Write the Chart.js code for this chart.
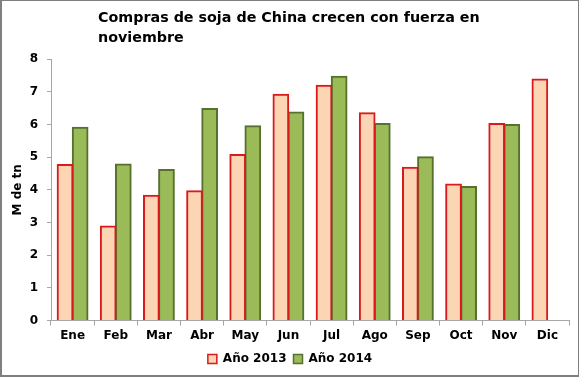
<!DOCTYPE html>
<html><head><meta charset="utf-8">
<script src="https://cdn.jsdelivr.net/npm/chart.js@4"></script>
<style>
html,body{margin:0;padding:0;background:#fff;}
#wrap{position:relative;border:1px solid #7f7f7f;border-left:2px solid #7f7f7f;border-bottom:2px solid #7f7f7f;box-sizing:border-box;width:579px;height:377px;}
#title{position:absolute;left:96px;top:6px;font-family:"DejaVu Sans",sans-serif;font-weight:bold;font-size:14.3px;line-height:20px;color:#000;}
canvas{position:absolute;left:0;top:0;}
</style></head><body>
<div id="wrap">
<canvas id="c" width="576" height="374"></canvas>
<div id="title">Compras de soja de China crecen con fuerza en<br>noviembre</div>
</div>
<script>
const categories = ["Ene","Feb","Mar","Abr","May","Jun","Jul","Ago","Sep","Oct","Nov","Dic"];
const values2013 = [4.77,2.89,3.83,3.97,5.08,6.92,7.20,6.36,4.69,4.18,6.03,7.39];
const values2014 = [5.91,4.79,4.62,6.49,5.96,6.38,7.47,6.03,5.01,4.10,6.00,null];
const yTicks = [0,1,2,3,4,5,6,7,8];
const seriesNames = ["Año 2013","Año 2014"];

const font = {family:"'DejaVu Sans', sans-serif", weight:"bold", size:12};
new Chart(document.getElementById('c'), {
  type:'bar',
  data:{
    labels:categories,
    datasets:[
      {label:seriesNames[0],data:values2013,backgroundColor:'#fcd5b5',borderColor:'#d9191c',borderWidth:{top:2,left:2,right:2,bottom:0},borderSkipped:false,inflateAmount:0.5,categoryPercentage:0.7,barPercentage:1.04},
      {label:seriesNames[1],data:values2014,backgroundColor:'#9bbb59',borderColor:'#56702e',borderWidth:{top:2,left:2,right:2,bottom:0},borderSkipped:false,inflateAmount:0.5,categoryPercentage:0.7,barPercentage:1.04}
    ]
  },
  options:{
    responsive:false,animation:false,
    layout:{padding:{top:58,right:9,left:9,bottom:0}},
    plugins:{
      legend:{position:'bottom',labels:{font:font,color:'#000',boxWidth:9,boxHeight:9,padding:7}},
      tooltip:{enabled:false},title:{display:false}
    },
    scales:{
      x:{grid:{display:true,drawOnChartArea:false,drawTicks:true,tickLength:5,color:'#a6a6a6',offset:true},border:{color:'#a6a6a6'},ticks:{font:font,color:'#000',padding:3}},
      y:{min:0,max:8,afterBuildTicks:(s)=>{s.ticks=yTicks.map(v=>({value:v}));},afterFit:(s)=>{s.width=40;},
         grid:{display:true,drawOnChartArea:false,tickLength:4,color:'#a6a6a6'},border:{color:'#a6a6a6'},
         ticks:{font:font,color:'#000',padding:9},
         title:{display:true,text:'M de tn',font:font,color:'#000',padding:0}}
    }
  }
});
</script>
</body></html>
